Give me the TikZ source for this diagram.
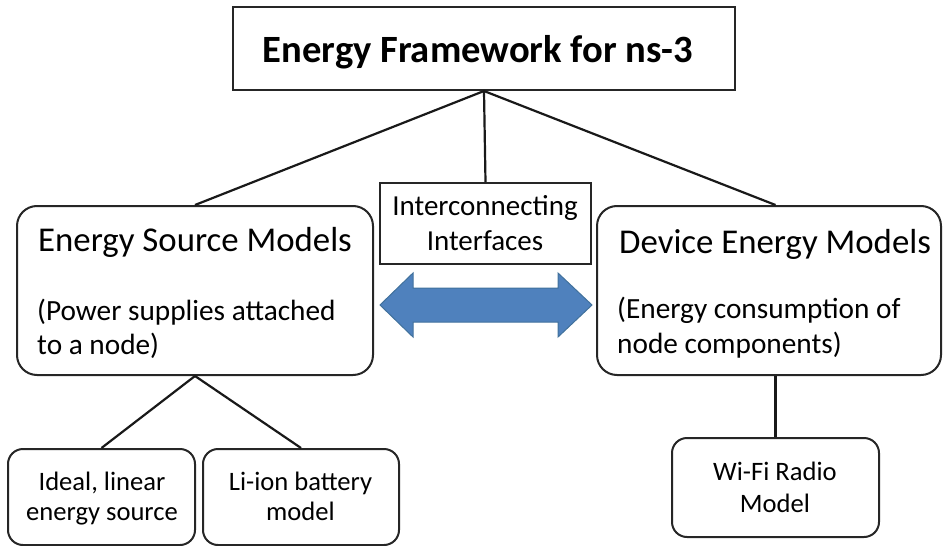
\documentclass[tikz,border=0pt]{standalone}
\usepackage{fontspec}
\setmainfont{Carlito}
\begin{document}
\begin{tikzpicture}[x=1pt,y=-1pt,
  sqbox/.style={draw=black!85, line width=2pt, fill=white, inner sep=0pt},
  rbox/.style={draw=black!85, line width=2pt, fill=white, rounded corners=20pt, inner sep=0pt},
  sbox/.style={draw=black!85, line width=2pt, fill=white, rounded corners=15pt, inner sep=0pt},
  link/.style={draw=black!90, line width=2.2pt},
  txt/.style={inner sep=0pt, text=black},
  headtxt/.style={txt, font=\fontsize{34.8}{34.8}\selectfont},
  desctxt/.style={txt, font=\fontsize{29.3}{29.3}\selectfont},
  midtxt/.style={txt, font=\fontsize{29}{29}\selectfont},
  smalltxt/.style={txt, font=\fontsize{26.6}{26.6}\selectfont},
  dblarrow/.style={fill=arrowblue, draw=arrowedge, line width=1pt}
]
\definecolor{arrowblue}{HTML}{4F81BD}
\definecolor{arrowedge}{HTML}{41719C}
\useasboundingbox (0,0) rectangle (943,546);

% boxes
\node[sqbox, minimum width=502pt, minimum height=83pt] (title) at (484,48.5) {};
\node[sqbox, minimum width=211pt, minimum height=81pt] (inter) at (485.5,223.5) {};
\node[rbox, minimum width=356pt, minimum height=169pt] (src) at (195,290.5) {};
\node[rbox, minimum width=344pt, minimum height=169pt] (dev) at (769,290.5) {};
\node[sbox, minimum width=187pt, minimum height=96pt] (ideal) at (101.5,497) {};
\node[sbox, minimum width=196pt, minimum height=96pt] (liion) at (301,497) {};
\node[sbox, minimum width=207pt, minimum height=99pt] (wifi) at (775.5,487.5) {};

% connectors
\draw[link] (title.south) -- (src.north);
\draw[link] (title.south) -- (inter.north);
\draw[link] (title.south) -- (dev.north -| wifi.north);
\draw[link] (src.south) -- (ideal.north);
\draw[link] (src.south) -- (liion.north);
\draw[link] (dev.south -| wifi.north) -- (wifi.north);

% double arrow
\draw[dblarrow] (380,305) -- (413,273) -- (413,288) -- (558,288) -- (558,273)
  -- (592,305) -- (558,337) -- (558,322) -- (413,322) -- (413,337) -- cycle;

% texts
\node[txt, anchor=base, font=\fontsize{38.6}{38.6}\selectfont\bfseries] (ttitle) at (478,62) {Energy Framework for ns-3};

\node[midtxt, anchor=base] (tint1) at (485,215) {Interconnecting};
\node[midtxt, anchor=base] (tint2) at (485,250) {Interfaces};

\node[headtxt, anchor=base west] (tsrc1) at (38,251) {Energy Source Models};
\node[desctxt, anchor=base west] (tsrc2) at (37,320) {(Power supplies attached};
\node[desctxt, anchor=base west] (tsrc3) at (37,354) {to a node)};

\node[headtxt, anchor=base west] (tdev1) at (619,253) {Device Energy Models};
\node[desctxt, anchor=base west] (tdev2) at (617,318) {(Energy consumption of};
\node[desctxt, anchor=base west] (tdev3) at (617,353) {node components)};

\node[smalltxt, anchor=base] (tid1) at (102,490) {Ideal, linear};
\node[smalltxt, anchor=base] (tid2) at (102,520) {energy source};
\node[smalltxt, anchor=base] (tli1) at (300.5,490) {Li-ion battery};
\node[smalltxt, anchor=base] (tli2) at (300.5,520) {model};
\node[smalltxt, anchor=base] (twf1) at (775,480) {Wi-Fi Radio};
\node[smalltxt, anchor=base] (twf2) at (775,512) {Model};
\end{tikzpicture}
\end{document}
